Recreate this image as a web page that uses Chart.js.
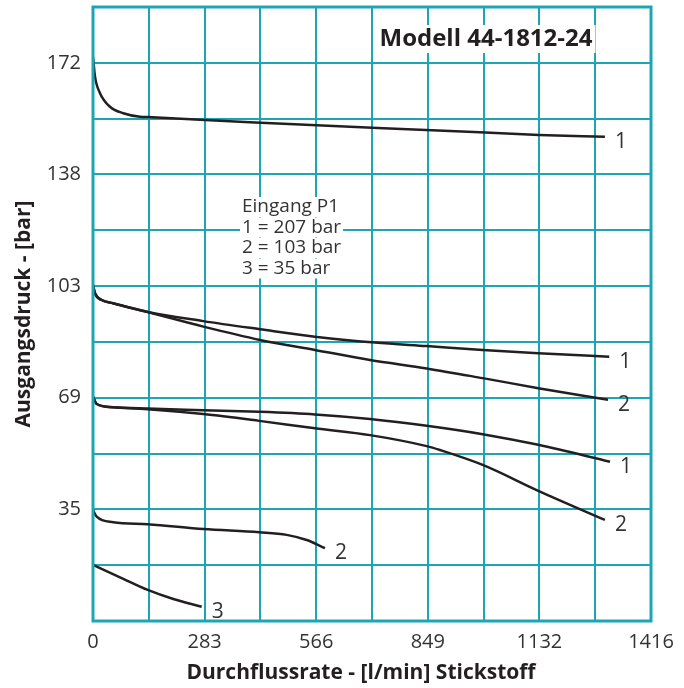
<!DOCTYPE html>
<html>
<head>
<meta charset="utf-8">
<script src="https://cdn.jsdelivr.net/npm/chart.js@4.4.1/dist/chart.umd.min.js"></script>
<style>
  html, body { margin: 0; padding: 0; background: #ffffff; }
  #wrap { width: 684px; height: 688px; }
</style>
</head>
<body>
<div id="wrap"><canvas id="chart"></canvas></div>
<script>
// axes: l/min and bar (grid every 5 SCFM / 250 psi)
const xGrid = [0, 141.6, 283.2, 424.8, 566.4, 708, 849.6, 991.2, 1132.8, 1274.4, 1416];
const yGrid = [0, 17.24, 34.47, 51.71, 68.95, 86.18, 103.42, 120.66, 137.9, 155.13, 172.37, 189.6];
const xTickLabels = ["0", "283", "566", "849", "1132", "1416"];
const yTickLabels = ["35", "69", "103", "138", "172"];

const titleText = "Modell 44-1812-24";
const xTitle = "Durchflussrate - [l/min] Stickstoff";
const noteLines = ["Eingang P1", "1 = 207 bar", "2 = 103 bar", "3 = 35 bar"];
const curveLabels = ["1", "1", "2", "1", "2", "2", "3"];

// P1 = 207 bar
const flowA = [0, 5.1, 17.8, 43.1, 76.9, 119.3, 138.8, 398, 906, 1132, 1299];
const presA = [174.2, 168.1, 163.0, 158.8, 156.8, 155.7, 155.6, 154.0, 151.3, 150.1, 149.5];
// P1 = 103 bar, curve 1
const flowB1 = [0, 5.1, 22.1, 50.8, 136.3, 280, 423.8, 563.3, 715.6, 846.8, 988.9, 1130, 1310];
const presB1 = [103.8, 101.2, 99.1, 98.1, 95.5, 92.6, 90.1, 87.8, 86.0, 84.9, 83.7, 82.7, 81.6];
// P1 = 103 bar, curve 2
const flowB2 = [0, 5.1, 22.1, 50.8, 136.3, 280, 423.8, 563.3, 703, 846.8, 988.9, 1130, 1307];
const presB2 = [103.8, 101.2, 99.1, 98.1, 95.5, 90.9, 86.8, 83.7, 80.6, 78.0, 75.0, 71.9, 68.3];
// P1 = 69 bar, curve 1
const flowC1 = [0, 9.4, 51.5, 138.8, 279.9, 422, 563.3, 703, 846.8, 988.9, 1130, 1312];
const presC1 = [69.3, 67.0, 66.0, 65.6, 65.1, 64.6, 63.8, 62.4, 60.3, 57.7, 54.4, 49.2];
// P1 = 69 bar, curve 2
const flowC2 = [0, 9.4, 51.5, 138.8, 279.9, 422, 563.3, 703, 846.8, 880.5, 988.9, 1130, 1299];
const presC2 = [69.3, 67.0, 66.0, 65.4, 63.9, 61.8, 59.5, 57.4, 54.0, 52.8, 48.2, 40.2, 31.2];
// P1 = 35 bar
const flowD = [0, 9.4, 51.5, 138.8, 279.9, 422, 491.5, 542.3, 588.7];
const presD = [34.3, 32.2, 30.5, 29.9, 28.4, 27.4, 26.6, 25.0, 22.5];
// curve 3
const flowE = [0, 68.5, 138.8, 203.8, 275.8];
const presE = [17.3, 13.5, 9.6, 6.8, 4.4];

const curves = [
  [flowA, presA], [flowB1, presB1], [flowB2, presB2],
  [flowC1, presC1], [flowC2, presC2], [flowD, presD], [flowE, presE]
];

const teal = "#1ca6b4";
const ink = "#231f20";
const fontFam = "'Open Sans', 'Noto Sans', sans-serif";

const overlay = {
  id: "overlay",
  afterDraw(chart) {
    const ctx = chart.ctx;
    const a = chart.chartArea;
    ctx.save();
    // frame
    ctx.strokeStyle = teal;
    ctx.lineWidth = 3;
    ctx.strokeRect(a.left, a.top, a.right - a.left, a.bottom - a.top);

    // title box
    ctx.font = "bold 24px " + fontFam;
    ctx.textBaseline = "alphabetic";
    ctx.textAlign = "left";
    let w = ctx.measureText(titleText).width;
    const tx = 486 - w / 2, ty = 46;
    ctx.fillStyle = "#ffffff";
    ctx.fillRect(tx - 3, ty - 21, w + 6, 28);
    ctx.fillStyle = ink;
    ctx.fillText(titleText, tx, ty);

    // x axis title (sits a little left of the plot centre)
    ctx.font = "bold 21px " + fontFam;
    ctx.textAlign = "center";
    ctx.fillText(xTitle, 361, 679);
    ctx.textAlign = "left";

    // inlet note
    ctx.font = "19px " + fontFam;
    noteLines.forEach((s, i) => {
      const by = 212 + i * 20.5;
      const lw = ctx.measureText(s).width;
      ctx.fillStyle = "#ffffff";
      ctx.fillRect(240, by - 15, lw + 4, 20);
      ctx.fillStyle = "#333333";
      ctx.fillText(s, 242, by);
    });

    // curve end labels
    ctx.font = "21px " + fontFam;
    ctx.textBaseline = "middle";
    ctx.fillStyle = "#333333";
    chart.data.datasets.forEach((ds, i) => {
      const pts = chart.getDatasetMeta(i).data;
      const p = pts[pts.length - 1];
      ctx.fillText(curveLabels[i], p.x + 10, p.y + 5);
    });
    ctx.restore();
  }
};

const ctx = document.getElementById("chart").getContext("2d");
new Chart(ctx, {
  type: "line",
  data: {
    datasets: curves.map((c) => ({
      data: c[0].map((x, i) => ({ x: x, y: c[1][i] })),
      borderColor: ink,
      borderWidth: 2.5,
      pointRadius: 0,
      cubicInterpolationMode: "monotone",
      fill: false,
    })),
  },
  options: {
    responsive: true,
    maintainAspectRatio: false,
    animation: false,
    layout: { padding: { top: 7, right: 33, left: 0, bottom: 0 } },
    plugins: {
      legend: { display: false },
      tooltip: { enabled: false },
    },
    scales: {
      x: {
        type: "linear",
        min: 0,
        max: 1416,
        afterBuildTicks: (scale) => {
          scale.ticks = xGrid.map((v) => ({ value: v }));
        },
        afterFit: (scale) => {
          scale.height = 67;
          scale.paddingLeft = 0;
          scale.paddingRight = 0;
        },
        grid: { color: teal, lineWidth: 2, drawTicks: false },
        border: { display: false },
        ticks: {
          autoSkip: false,
          maxRotation: 0,
          padding: 9,
          color: "#333333",
          font: { family: fontFam, size: 20 },
          callback: (v, i) => (i % 2 === 0 ? xTickLabels[i / 2] : ""),
        },
        title: { display: false },
      },
      y: {
        type: "linear",
        min: 0,
        max: 189.6,
        afterBuildTicks: (scale) => {
          scale.ticks = yGrid.map((v) => ({ value: v }));
        },
        afterFit: (scale) => {
          scale.width = 93;
          scale.paddingTop = 0;
          scale.paddingBottom = 0;
        },
        grid: { color: teal, lineWidth: 2, drawTicks: false },
        border: { display: false },
        ticks: {
          autoSkip: false,
          padding: 12,
          color: "#333333",
          font: { family: fontFam, size: 20 },
          callback: (v, i) => (i % 2 === 0 && i > 0 ? yTickLabels[i / 2 - 1] : ""),
        },
        title: {
          display: true,
          text: "Ausgangsdruck - [bar]",
          color: ink,
          font: { family: fontFam, size: 21, weight: "bold" },
          padding: { top: 11, bottom: 0 },
        },
      },
    },
  },
  plugins: [overlay],
});
</script>
</body>
</html>
